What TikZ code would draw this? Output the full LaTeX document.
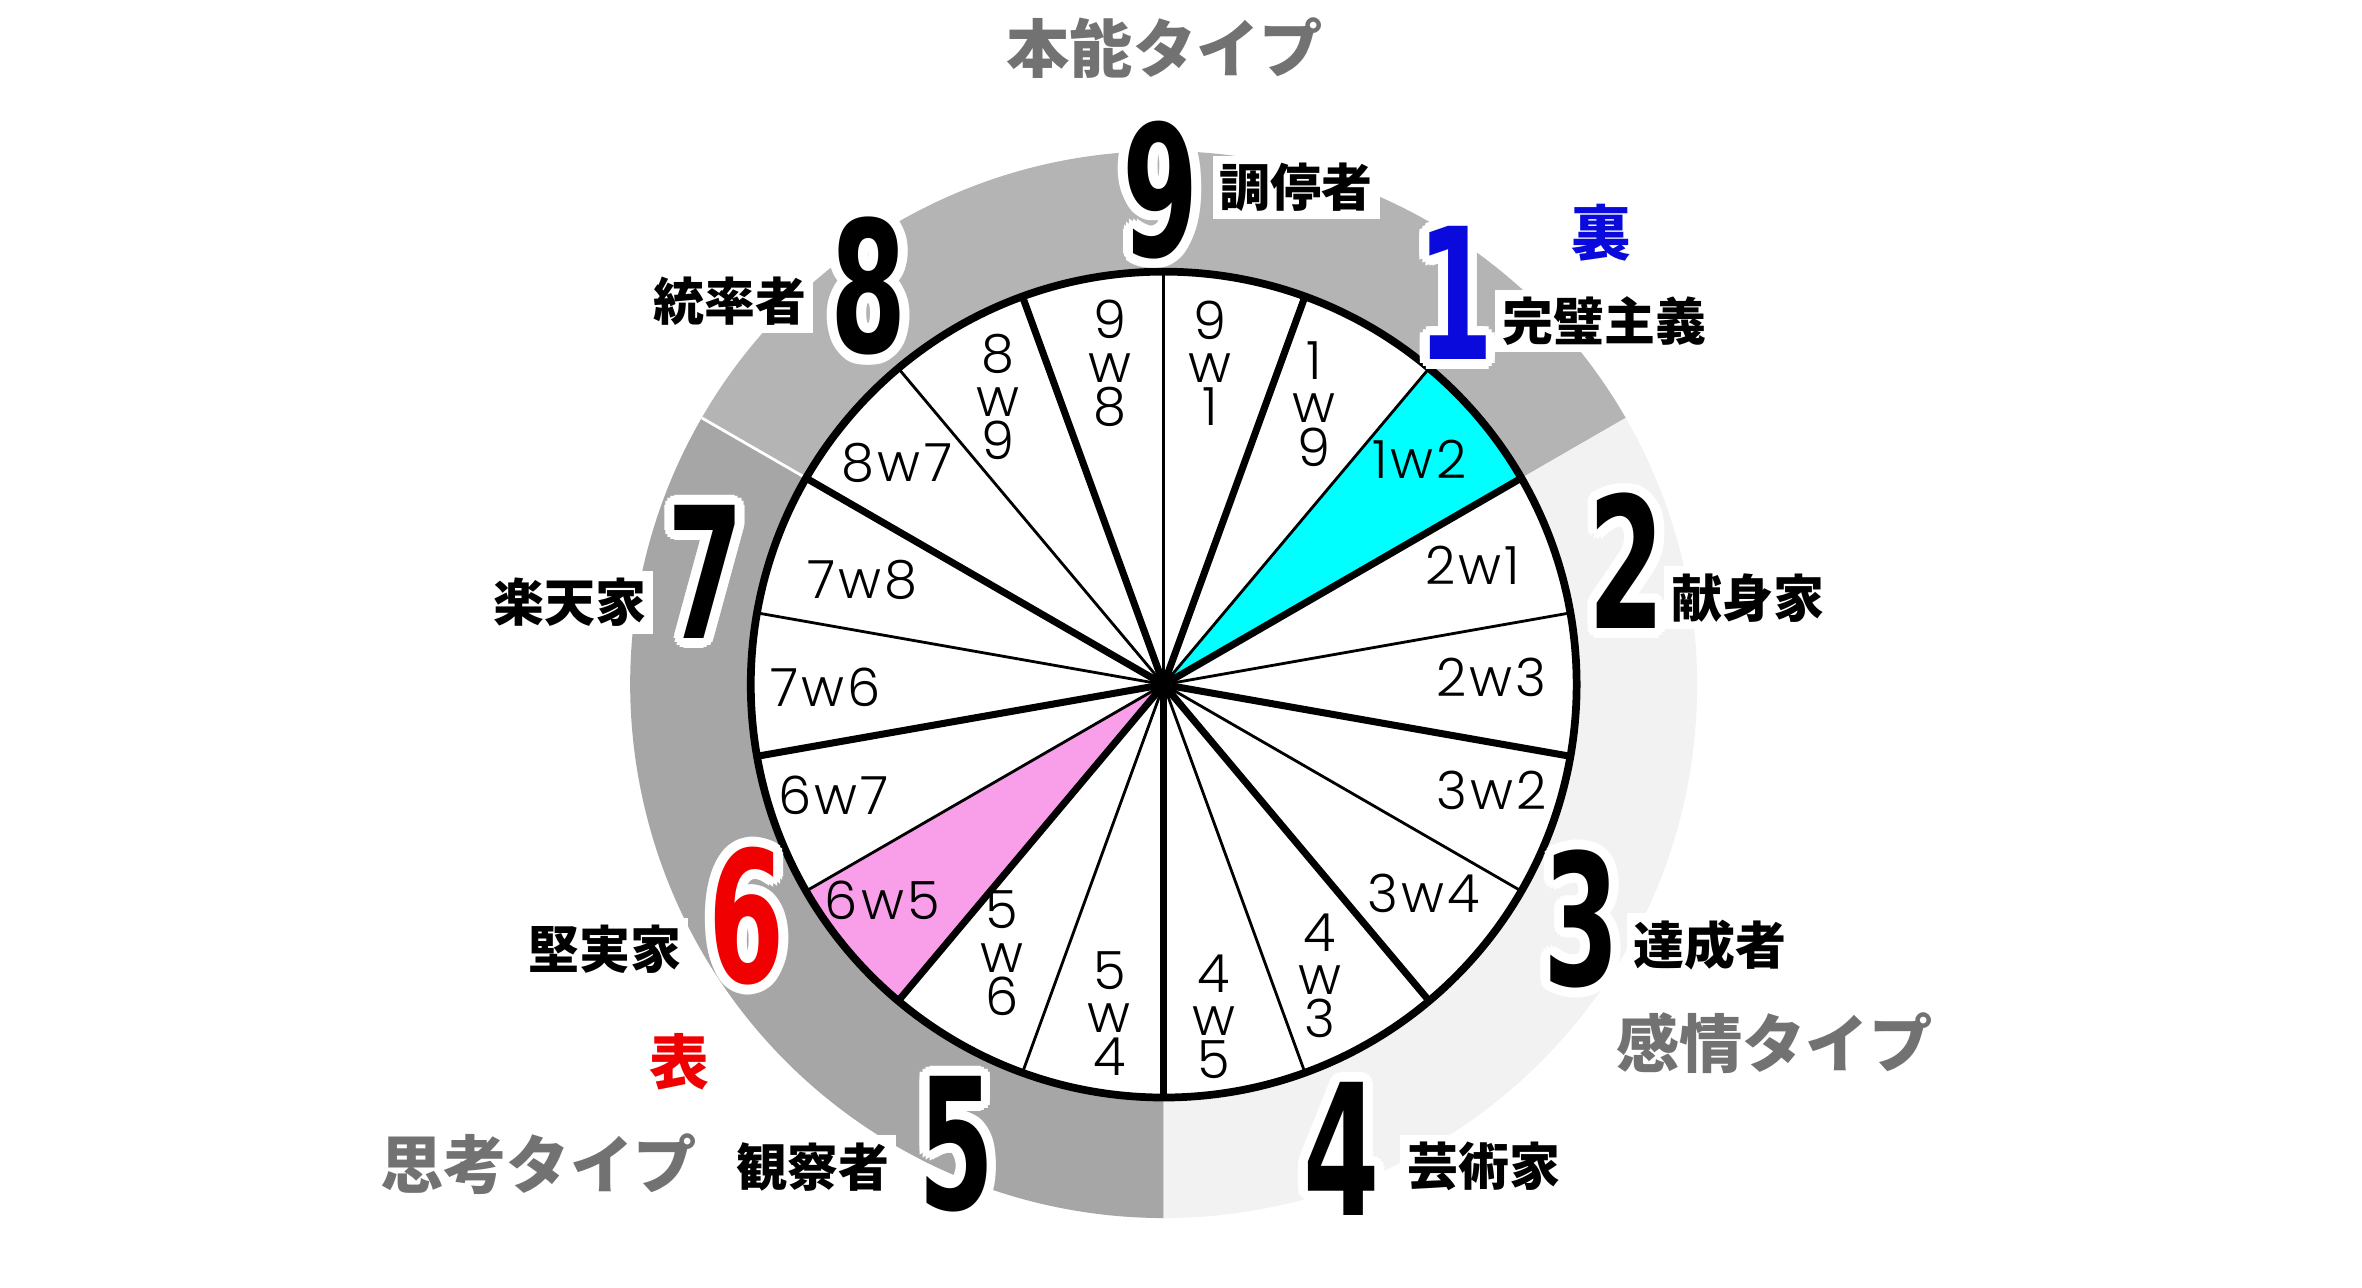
\documentclass[tikz,border=0pt]{standalone}
\usepackage{fontspec}
\setmainfont{Liberation Sans}
\newfontfamily\jpfont{Noto Sans CJK JP}
\newfontfamily\numfont{DejaVu Sans}
\newfontfamily\wingfont{Poppins Light}[LetterSpace=6]
\usetikzlibrary{calc}

\definecolor{ring_top}{HTML}{B4B4B4}
\definecolor{ring_left}{HTML}{A6A6A6}
\definecolor{ring_right}{HTML}{F2F2F2}
\definecolor{wing_cyan}{HTML}{00FFFF}
\definecolor{wing_pink}{HTML}{F99FE9}
\definecolor{title_gray}{HTML}{727272}
\definecolor{ura_blue}{HTML}{0A0ADC}
\definecolor{omote_red}{HTML}{F00000}

% big number with a white halo: name, position, colour, digit
\newcommand{\halonum}[4]{%
  \foreach \k in {1,...,16}
    \node[big_num, text=white] (#1h\k) at ($(#2)+(\k*22.5:0.1)$) {\scalebox{0.6}[1]{#4}};
  \node[big_num, text=#3] (#1) at (#2) {\scalebox{0.6}[1]{#4}};
}

\begin{document}
\begin{tikzpicture}
  [scale=0.988]
  \tikzstyle{big_num}     = [font=\numfont\bfseries\fontsize{52}{52}\selectfont, inner sep=0pt];
  \tikzstyle{wing_label}  = [font=\wingfont\fontsize{15}{12.3}\selectfont, align=center, inner sep=0pt];
  \tikzstyle{type_label}  = [font=\jpfont\bfseries\fontsize{14.5}{14.5}\selectfont, fill=white, inner sep=2pt];
  \tikzstyle{side_label}  = [font=\jpfont\bfseries\fontsize{17}{17}\selectfont, inner sep=1pt];
  \tikzstyle{title_label} = [font=\jpfont\bfseries\fontsize{18}{18}\selectfont, text=title_gray];
  \tikzstyle{thick_spoke} = [line width=2pt];
  \tikzstyle{thin_spoke}  = [line width=0.8pt];

  \useasboundingbox (-11.78, -6.10) rectangle (12.13, 6.93);

  % outer ring
  \fill[ring_top]   (0, 0) -- (30:5.4)  arc[start angle=30,  end angle=150, radius=5.4] -- cycle;
  \fill[ring_left]  (0, 0) -- (150:5.4) arc[start angle=150, end angle=270, radius=5.4] -- cycle;
  \fill[ring_right] (0, 0) -- (270:5.4) arc[start angle=270, end angle=390, radius=5.4] -- cycle;
  \draw[white, line width=0.8pt] (150:4.1) -- (150:5.4);

  % wheel
  \fill[white] (0, 0) circle[radius=4.18];
  \fill[wing_cyan] (0, 0) -- (30:4.18)  arc[start angle=30,  end angle=50,  radius=4.18] -- cycle;
  \fill[wing_pink] (0, 0) -- (210:4.18) arc[start angle=210, end angle=230, radius=4.18] -- cycle;

  \draw[thin_spoke] (0, 0) -- (90:4.18);
  \draw[thin_spoke] (0, 0) -- (50:4.18);
  \draw[thin_spoke] (0, 0) -- (10:4.18);
  \draw[thin_spoke] (0, 0) -- (-30:4.18);
  \draw[thin_spoke] (0, 0) -- (-70:4.18);
  \draw[thin_spoke] (0, 0) -- (-110:4.18);
  \draw[thin_spoke] (0, 0) -- (-150:4.18);
  \draw[thin_spoke] (0, 0) -- (170:4.18);
  \draw[thin_spoke] (0, 0) -- (130:4.18);

  \draw[thick_spoke] (0, 0) -- (110:4.18);
  \draw[thick_spoke] (0, 0) -- (70:4.18);
  \draw[thick_spoke] (0, 0) -- (30:4.18);
  \draw[thick_spoke] (0, 0) -- (-10:4.18);
  \draw[thick_spoke] (0, 0) -- (-50:4.18);
  \draw[thick_spoke] (0, 0) -- (-90:4.18);
  \draw[thick_spoke] (0, 0) -- (-130:4.18);
  \draw[thick_spoke] (0, 0) -- (-170:4.18);
  \draw[thick_spoke] (0, 0) -- (150:4.18);

  \draw[line width=2.2pt] (0, 0) circle[radius=4.18];

  % wings
  \node[wing_label] (w98) at (-0.54, 3.25) {9\\w\\8};
  \node[wing_label] (w91) at (0.47, 3.25)  {9\\w\\1};
  \node[wing_label] (w89) at (-1.68, 2.91) {8\\w\\9};
  \node[wing_label] (w19) at (1.52, 2.84)  {1\\w\\9};
  \node[wing_label] (w87) at (-2.70, 2.24) {8w7};
  \node[wing_label] (w12) at (2.59, 2.28)  {1w2};
  \node[wing_label] (w78) at (-3.05, 1.06) {7w8};
  \node[wing_label] (w21) at (3.13, 1.21)  {2w1};
  \node[wing_label] (w76) at (-3.42, -0.03) {7w6};
  \node[wing_label] (w23) at (3.32, 0.07)  {2w3};
  \node[wing_label] (w67) at (-3.34, -1.12) {6w7};
  \node[wing_label] (w32) at (3.32, -1.07) {3w2};
  \node[wing_label] (w65) at (-2.85, -2.18) {6w5};
  \node[wing_label] (w34) at (2.63, -2.11) {3w4};
  \node[wing_label] (w56) at (-1.64, -2.72) {5\\w\\6};
  \node[wing_label] (w43) at (1.58, -2.95) {4\\w\\3};
  \node[wing_label] (w54) at (-0.55, -3.33) {5\\w\\4};
  \node[wing_label] (w45) at (0.51, -3.36) {4\\w\\5};

  % names
  \node[type_label] (l9) at (1.34, 5.03)   {調停者};
  \node[type_label] (l8) at (-4.39, 3.88)  {統率者};
  \node[type_label] (l1) at (4.46, 3.68)   {完璧主義};
  \node[type_label] (l2) at (5.91, 0.88)   {献身家};
  \node[type_label] (l7) at (-6.01, 0.83)  {楽天家};
  \node[type_label] (l6) at (-5.66, -2.68) {堅実家};
  \node[type_label] (l3) at (5.53, -2.64)  {達成者};
  \node[type_label] (l5) at (-3.55, -4.88) {観察者};
  \node[type_label] (l4) at (3.24, -4.88)  {芸術家};

  \node[side_label, text=ura_blue] (ura) at (4.43, 4.57)    {裏};
  \node[side_label, text=omote_red] (omote) at (-4.90, -3.82) {表};

  \node[title_label] (instinct) at (0.01, 6.44)   {本能タイプ};
  \node[title_label] (feeling)  at (6.18, -3.63)  {感情タイプ};
  \node[title_label] (thinking) at (-6.33, -4.85) {思考タイプ};

  % numbers
  \halonum{n9}{-0.03, 5.01}{black}{9}
  \halonum{n8}{-2.99, 4.03}{black}{8}
  \halonum{n1}{2.95, 3.96}{ura_blue}{1}
  \halonum{n2}{4.69, 1.25}{black}{2}
  \halonum{n7}{-4.64, 1.14}{black}{7}
  \halonum{n6}{-4.22, -2.34}{omote_red}{6}
  \halonum{n3}{4.23, -2.37}{black}{3}
  \halonum{n5}{-2.10, -4.65}{black}{5}
  \halonum{n4}{1.80, -4.70}{black}{4}

\end{tikzpicture}
\end{document}
